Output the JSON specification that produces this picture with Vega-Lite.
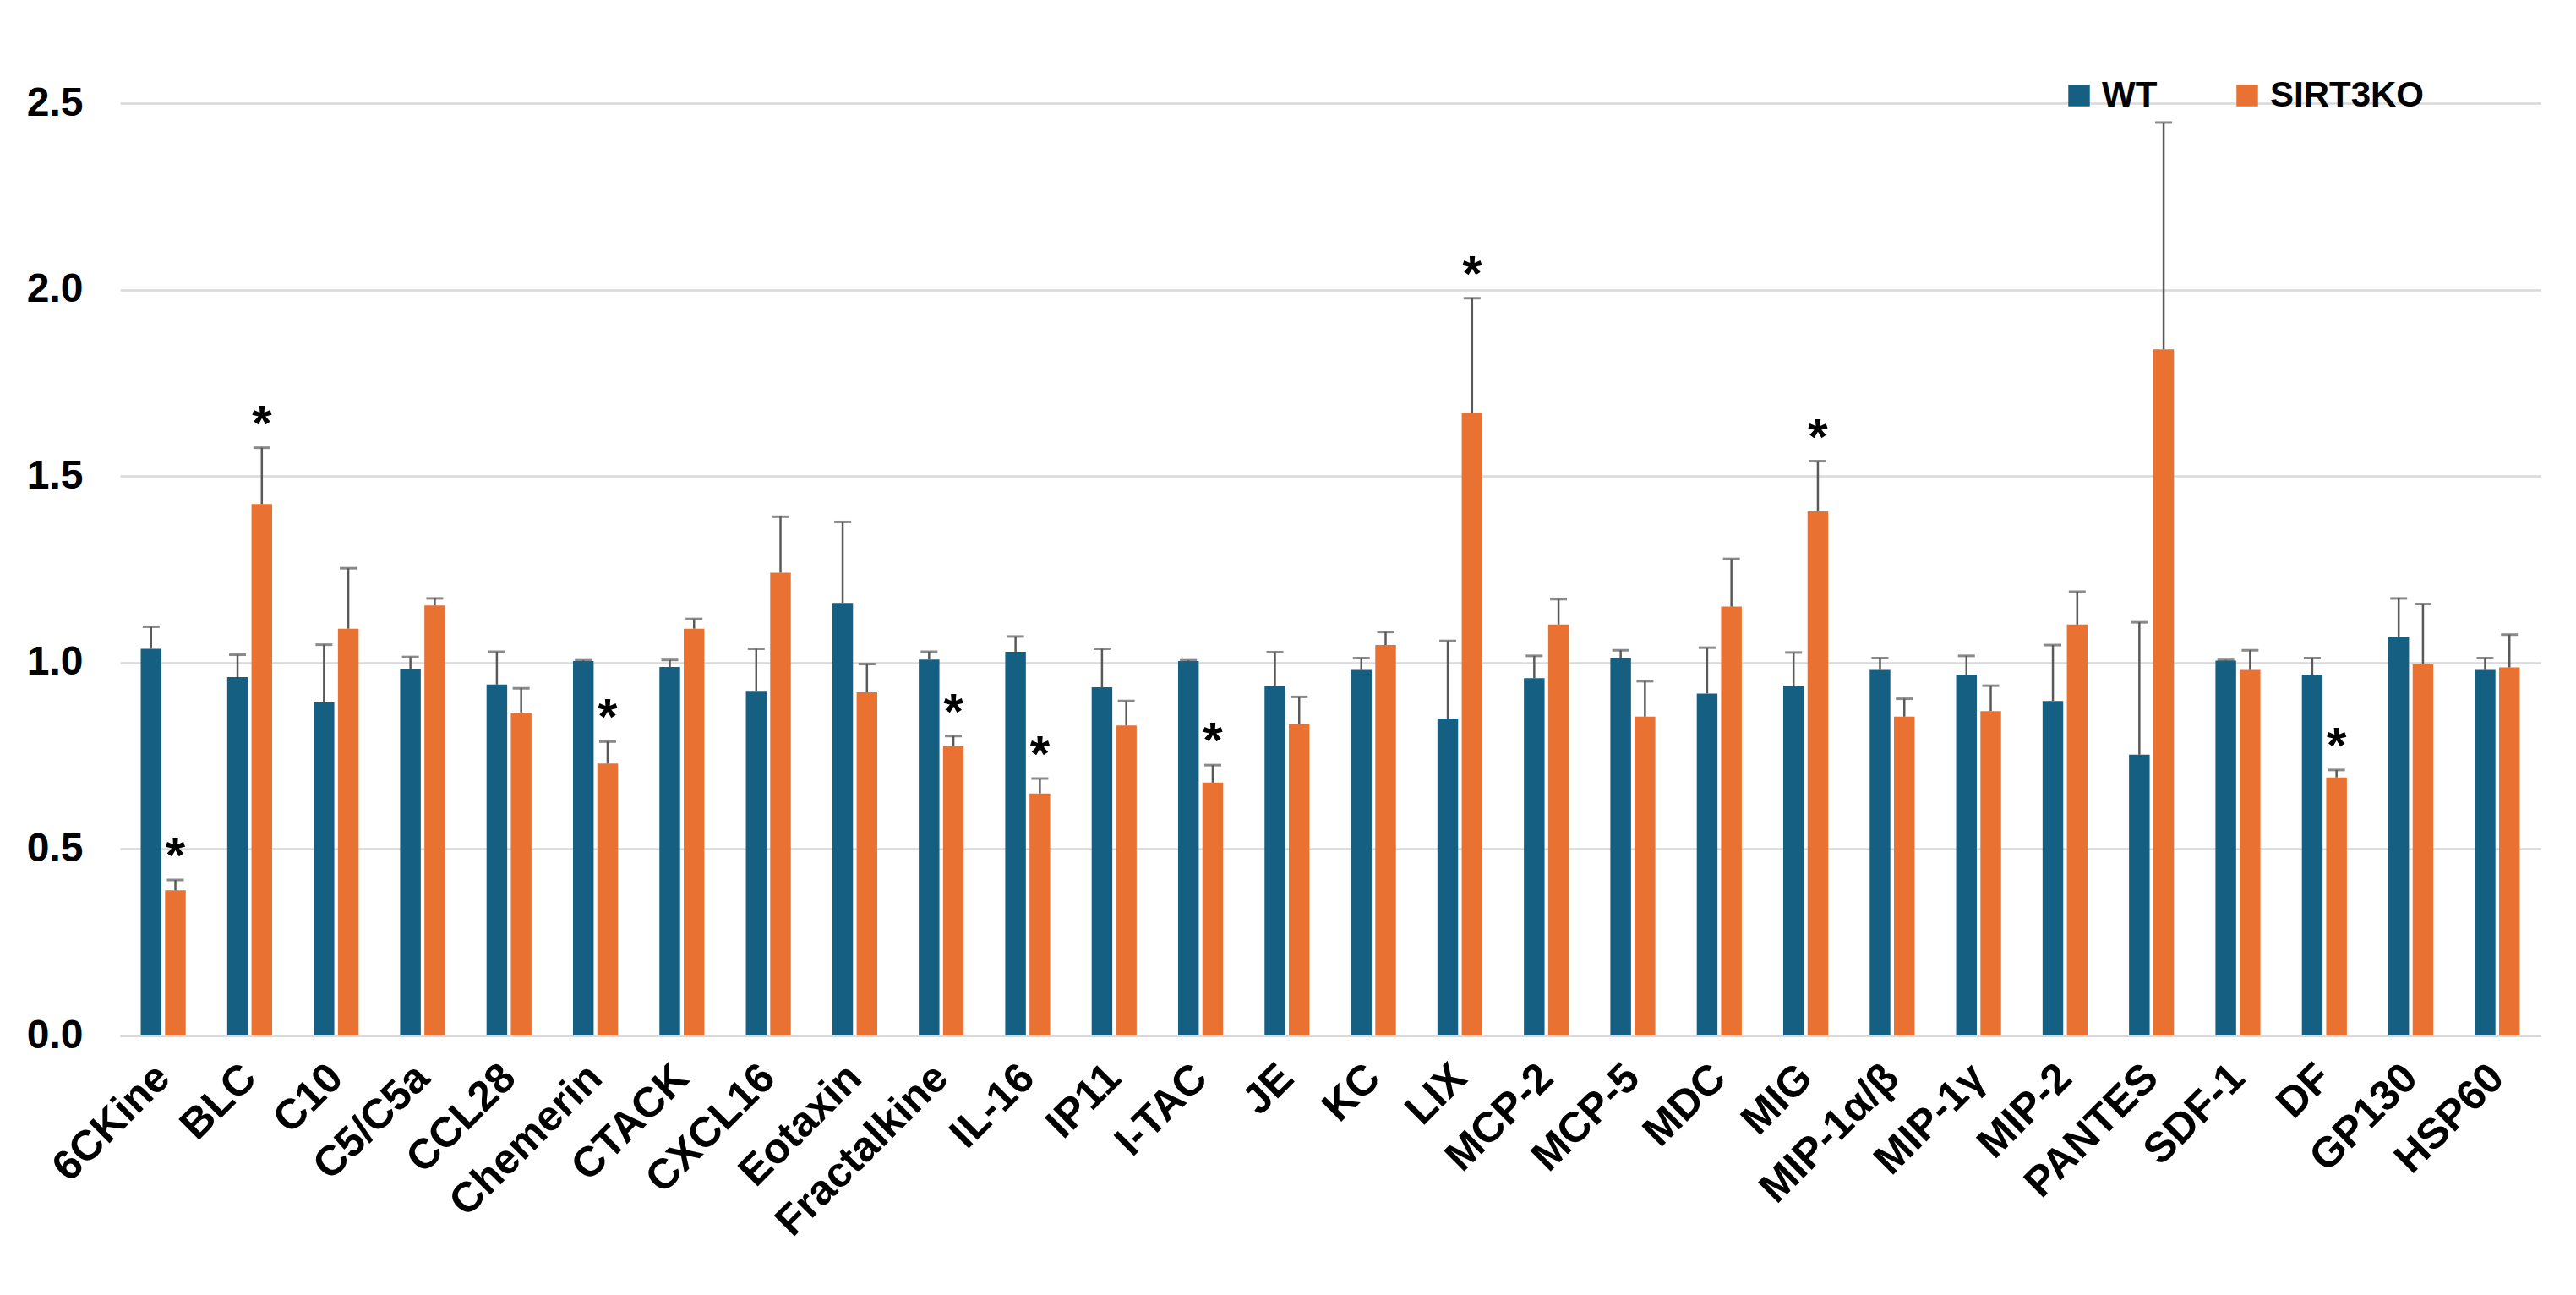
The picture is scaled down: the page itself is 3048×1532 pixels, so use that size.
{
  "$schema": "https://vega.github.io/schema/vega-lite/v6.json",
  "autosize": {"type": "none"},
  "padding": {"left": 142, "top": 122, "right": 42, "bottom": 307},
  "width": 2864,
  "height": 1103,
  "background": "white",
  "config": {
    "font": "Liberation Sans",
    "view": {"stroke": null},
    "axis": {"labelFont": "Liberation Sans", "labelFontWeight": "bold", "labelColor": "#000000"}
  },
  "data": {"values": [
    {"gene": "6CKine", "group": "WT", "value": 1.037, "err": 1.096, "sig": false},
    {"gene": "6CKine", "group": "SIRT3KO", "value": 0.389, "err": 0.417, "sig": true},
    {"gene": "BLC", "group": "WT", "value": 0.961, "err": 1.021, "sig": false},
    {"gene": "BLC", "group": "SIRT3KO", "value": 1.425, "err": 1.576, "sig": true},
    {"gene": "C10", "group": "WT", "value": 0.893, "err": 1.048, "sig": false},
    {"gene": "C10", "group": "SIRT3KO", "value": 1.091, "err": 1.253, "sig": false},
    {"gene": "C5/C5a", "group": "WT", "value": 0.982, "err": 1.015, "sig": false},
    {"gene": "C5/C5a", "group": "SIRT3KO", "value": 1.153, "err": 1.172, "sig": false},
    {"gene": "CCL28", "group": "WT", "value": 0.941, "err": 1.029, "sig": false},
    {"gene": "CCL28", "group": "SIRT3KO", "value": 0.865, "err": 0.931, "sig": false},
    {"gene": "Chemerin", "group": "WT", "value": 1.004, "err": 1.006, "sig": false},
    {"gene": "Chemerin", "group": "SIRT3KO", "value": 0.729, "err": 0.788, "sig": true},
    {"gene": "CTACK", "group": "WT", "value": 0.988, "err": 1.007, "sig": false},
    {"gene": "CTACK", "group": "SIRT3KO", "value": 1.091, "err": 1.117, "sig": false},
    {"gene": "CXCL16", "group": "WT", "value": 0.922, "err": 1.037, "sig": false},
    {"gene": "CXCL16", "group": "SIRT3KO", "value": 1.241, "err": 1.391, "sig": false},
    {"gene": "Eotaxin", "group": "WT", "value": 1.160, "err": 1.377, "sig": false},
    {"gene": "Eotaxin", "group": "SIRT3KO", "value": 0.920, "err": 0.996, "sig": false},
    {"gene": "Fractalkine", "group": "WT", "value": 1.008, "err": 1.029, "sig": false},
    {"gene": "Fractalkine", "group": "SIRT3KO", "value": 0.776, "err": 0.803, "sig": true},
    {"gene": "IL-16", "group": "WT", "value": 1.029, "err": 1.070, "sig": false},
    {"gene": "IL-16", "group": "SIRT3KO", "value": 0.649, "err": 0.689, "sig": true},
    {"gene": "IP11", "group": "WT", "value": 0.934, "err": 1.037, "sig": false},
    {"gene": "IP11", "group": "SIRT3KO", "value": 0.831, "err": 0.897, "sig": false},
    {"gene": "I-TAC", "group": "WT", "value": 1.004, "err": 1.006, "sig": false},
    {"gene": "I-TAC", "group": "SIRT3KO", "value": 0.678, "err": 0.725, "sig": true},
    {"gene": "JE", "group": "WT", "value": 0.938, "err": 1.028, "sig": false},
    {"gene": "JE", "group": "SIRT3KO", "value": 0.835, "err": 0.908, "sig": false},
    {"gene": "KC", "group": "WT", "value": 0.980, "err": 1.012, "sig": false},
    {"gene": "KC", "group": "SIRT3KO", "value": 1.047, "err": 1.082, "sig": false},
    {"gene": "LIX", "group": "WT", "value": 0.850, "err": 1.058, "sig": false},
    {"gene": "LIX", "group": "SIRT3KO", "value": 1.670, "err": 1.977, "sig": true},
    {"gene": "MCP-2", "group": "WT", "value": 0.958, "err": 1.018, "sig": false},
    {"gene": "MCP-2", "group": "SIRT3KO", "value": 1.102, "err": 1.170, "sig": false},
    {"gene": "MCP-5", "group": "WT", "value": 1.012, "err": 1.033, "sig": false},
    {"gene": "MCP-5", "group": "SIRT3KO", "value": 0.855, "err": 0.950, "sig": false},
    {"gene": "MDC", "group": "WT", "value": 0.917, "err": 1.040, "sig": false},
    {"gene": "MDC", "group": "SIRT3KO", "value": 1.150, "err": 1.278, "sig": false},
    {"gene": "MIG", "group": "WT", "value": 0.938, "err": 1.027, "sig": false},
    {"gene": "MIG", "group": "SIRT3KO", "value": 1.405, "err": 1.540, "sig": true},
    {"gene": "MIP-1α/β", "group": "WT", "value": 0.980, "err": 1.012, "sig": false},
    {"gene": "MIP-1α/β", "group": "SIRT3KO", "value": 0.855, "err": 0.903, "sig": false},
    {"gene": "MIP-1γ", "group": "WT", "value": 0.967, "err": 1.018, "sig": false},
    {"gene": "MIP-1γ", "group": "SIRT3KO", "value": 0.870, "err": 0.938, "sig": false},
    {"gene": "MIP-2", "group": "WT", "value": 0.897, "err": 1.047, "sig": false},
    {"gene": "MIP-2", "group": "SIRT3KO", "value": 1.102, "err": 1.190, "sig": false},
    {"gene": "PANTES", "group": "WT", "value": 0.753, "err": 1.108, "sig": false},
    {"gene": "PANTES", "group": "SIRT3KO", "value": 1.840, "err": 2.448, "sig": false},
    {"gene": "SDF-1", "group": "WT", "value": 1.005, "err": 1.007, "sig": false},
    {"gene": "SDF-1", "group": "SIRT3KO", "value": 0.980, "err": 1.033, "sig": false},
    {"gene": "DF", "group": "WT", "value": 0.967, "err": 1.012, "sig": false},
    {"gene": "DF", "group": "SIRT3KO", "value": 0.692, "err": 0.712, "sig": true},
    {"gene": "GP130", "group": "WT", "value": 1.068, "err": 1.172, "sig": false},
    {"gene": "GP130", "group": "SIRT3KO", "value": 0.995, "err": 1.157, "sig": false},
    {"gene": "HSP60", "group": "WT", "value": 0.980, "err": 1.012, "sig": false},
    {"gene": "HSP60", "group": "SIRT3KO", "value": 0.987, "err": 1.075, "sig": false}
  ]},
  "encoding": {
    "x": {
      "field": "gene", "type": "nominal", "sort": null, "title": null,
      "scale": {"paddingInner": 0.48, "paddingOuter": 0.24},
      "axis": {
        "labelAngle": -45, "labelAlign": "right", "labelBaseline": "middle",
        "labelFontSize": 50, "labelPadding": 42, "ticks": false, "grid": false,
        "domainColor": "#d9d9d9", "domainWidth": 3, "labelOverlap": false, "labelLimit": 0
      }
    },
    "xOffset": {"field": "group", "type": "nominal", "sort": ["WT", "SIRT3KO"], "scale": {"paddingInner": 0.15}}
  },
  "layer": [
    {
      "mark": {"type": "bar"},
      "encoding": {
        "y": {
          "field": "value", "type": "quantitative", "title": null,
          "scale": {"domain": [0, 2.5], "nice": false, "zero": true},
          "axis": {
            "values": [0, 0.5, 1, 1.5, 2, 2.5], "format": ".1f",
            "labelFontSize": 48, "labelPadding": 44, "ticks": false, "domain": false,
            "gridColor": "#d9d9d9", "gridWidth": 2.5
          }
        },
        "color": {
          "field": "group", "type": "nominal",
          "scale": {"domain": ["WT", "SIRT3KO"], "range": ["#156082", "#E97132"]},
          "legend": {
            "title": null, "orient": "none", "direction": "horizontal",
            "legendX": 2297, "legendY": -30,
            "symbolType": "square", "symbolSize": 650, "symbolStrokeWidth": 0,
            "labelFontSize": 42, "labelFont": "Liberation Sans", "labelFontWeight": "bold",
            "labelColor": "#000000", "columnPadding": 85, "labelOffset": 6, "labelLimit": 0
          }
        }
      }
    },
    {
      "mark": {"type": "rule", "color": "#595959", "strokeWidth": 2.5},
      "encoding": {
        "y": {"field": "value", "type": "quantitative"},
        "y2": {"field": "err"}
      }
    },
    {
      "mark": {"type": "tick", "color": "#595959", "thickness": 3, "size": 20, "orient": "horizontal"},
      "encoding": {
        "y": {"field": "err", "type": "quantitative"}
      }
    },
    {
      "transform": [{"filter": "datum.sig"}],
      "mark": {"type": "text", "text": "*", "fontSize": 60, "fontWeight": "bold", "color": "#000000", "baseline": "alphabetic", "dy": -9},
      "encoding": {
        "y": {"field": "err", "type": "quantitative"}
      }
    }
  ]
}
